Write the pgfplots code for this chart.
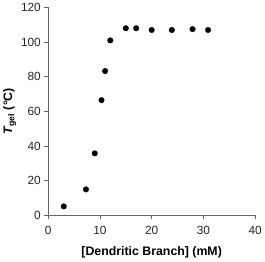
\documentclass[border=0pt]{standalone}
\usepackage{fontspec}
\setmainfont{Liberation Sans}
\usepackage{pgfplots}
\pgfplotsset{compat=1.18}
\begin{document}
\begin{tikzpicture}
\begin{axis}[
  scale only axis,
  width=209bp, height=210bp,
  xmin=0, xmax=40, ymin=0, ymax=120,
  xtick={0,10,...,40}, ytick={0,20,...,120},
  axis lines*=left,
  axis line style={black!60, line width=0.7pt},
  tick style={black!60, line width=0.7pt},
  tick align=outside,
  major tick length=4pt,
  tick label style={font=\fontsize{12}{14}\selectfont, text=black!85},
  xticklabel style={yshift=-3pt},
  /pgf/number format/assume math mode=true,
  xlabel={\textbf{[Dendritic Branch] (mM)}},
  ylabel={\textbf{\textit{T}\textsubscript{gel} (°C)}},
  label style={font=\fontsize{12.5}{14}\selectfont},
  xlabel style={yshift=-6pt},
  ylabel style={yshift=-2pt},
  clip=false,
]
\addplot[only marks, mark=*, mark size=2.8pt, black] coordinates {
  (3,5.2) (7.3,15) (9,35.8) (10.3,66.5) (11,83.3) (12,101)
  (15,108) (17,108) (20,107) (23.9,107) (27.9,107.5) (30.9,107)
};
\end{axis}
\end{tikzpicture}
\end{document}
